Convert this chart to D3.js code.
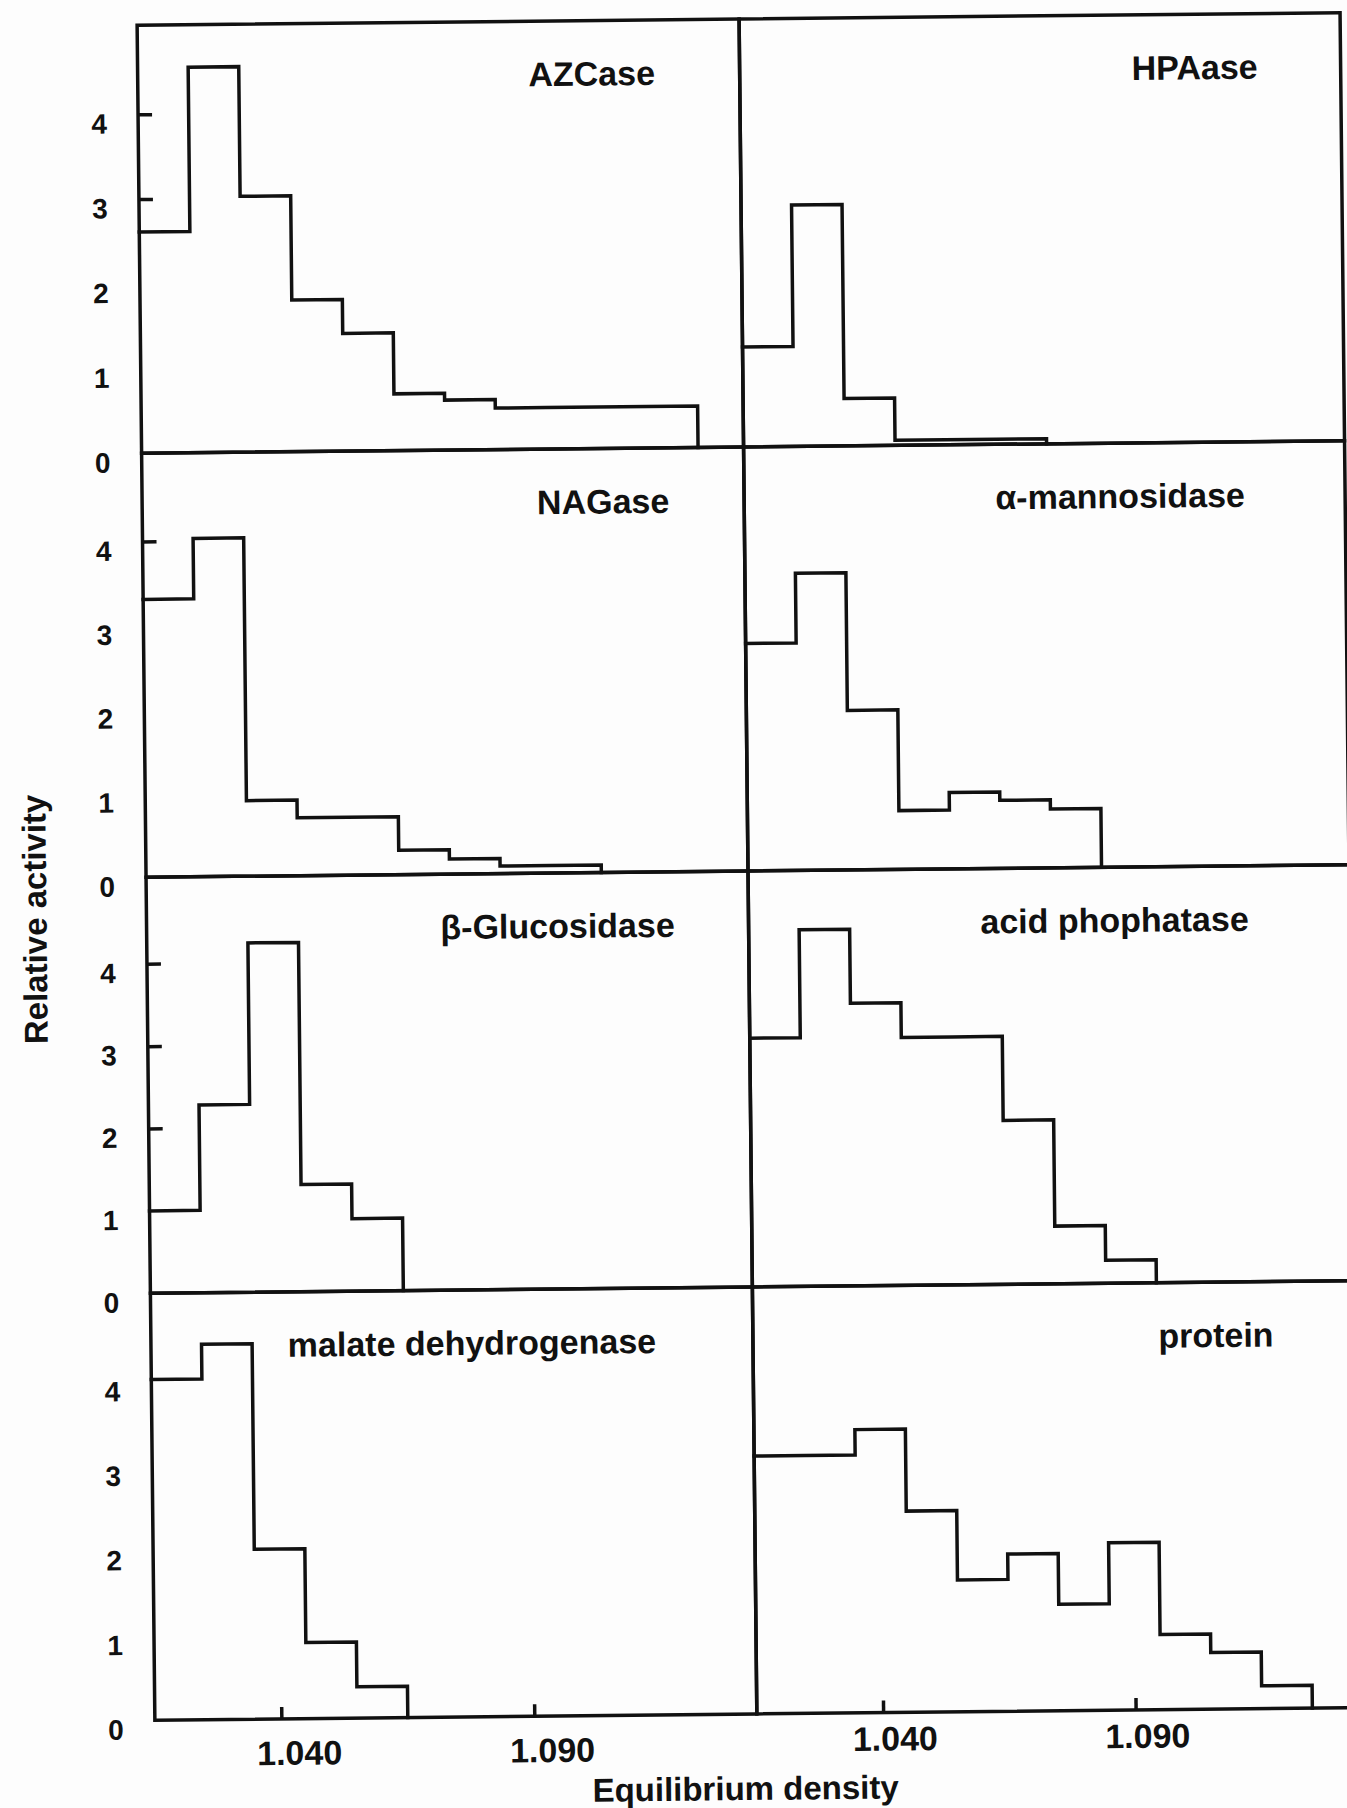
<!DOCTYPE html>
<html>
<head>
<meta charset="utf-8">
<script src="https://cdn.jsdelivr.net/npm/d3@7"></script>
<style>
  html, body { margin: 0; padding: 0; background: #fdfdfd; }
  svg { display: block; }
  text { font-family: "Liberation Sans", Arial, Helvetica, sans-serif; fill: #111; }
</style>
</head>
<body>
<svg id="chart" width="1347" height="1808"></svg>
<script>
// ---------------- data ----------------
const panelNames = ["AZCase", "HPAase", "NAGase", "\u03b1-mannosidase",
                    "\u03b2-Glucosidase", "acid phophatase", "malate dehydrogenase", "protein"];
// density bins of width 0.010 starting at 1.015
const binStart = 1.015;
const binWidth = 0.010;
const azcase   = [2.61, 4.55, 3.02, 1.79, 1.39, 0.67, 0.59, 0.49, 0.49, 0.49, 0.49];
const hpaase   = [1.18, 2.85, 0.56, 0.06, 0.06, 0.06];
const nagase   = [3.31, 4.03, 0.90, 0.69, 0.69, 0.29, 0.18, 0.09, 0.09];
const aMannos  = [2.71, 3.54, 1.90, 0.70, 0.91, 0.81, 0.70];
const bGlucos  = [1.00, 2.28, 4.24, 1.30, 0.88];
const acidPhos = [3.02, 4.33, 3.43, 3.01, 3.01, 1.99, 0.70, 0.28];
const malateDH = [4.03, 4.44, 2.01, 0.90, 0.37];
const protein  = [3.05, 3.05, 3.35, 2.38, 1.56, 1.86, 1.26, 1.98, 0.89, 0.67, 0.27];
const seriesValues = [azcase, hpaase, nagase, aMannos, bGlucos, acidPhos, malateDH, protein];

const xDomain = [1.015, 1.134];
const yDomain = [0, 5.05];
const xTickValues = [1.040, 1.090];
const xTickLabels = ["1.040", "1.090"];
const yTickValues = [0, 1, 2, 3, 4];
const yTickLabels = ["0", "1", "2", "3", "4"];
const yTickMarksByRow = [[4, 3], [4], [4, 3, 2], []];
const xTitle = "Equilibrium density";
const yTitle = "Relative activity";

// ---------------- layout ----------------
const colEdges = [146, 748, 1349];
const rowEdges = [19, 447, 871, 1287, 1714];
const titleCenters = [600, 1203, 607, 1124, 557, 1114, 467, 1211];
const xLabelShift = [[18, 46], [12, 38]];
const ink = "#111";
const lw = 3.5;

const svg = d3.select("#chart");
svg.append("rect").attr("width", 1347).attr("height", 1808).attr("fill", "#fdfdfd");
const g = svg.append("g").attr("transform", "rotate(-0.6 745 870)");

seriesValues.forEach((vals, i) => {
  const row = Math.floor(i / 2), col = i % 2;
  const x0 = colEdges[col], x1 = colEdges[col + 1];
  const yTop = rowEdges[row], yBot = rowEdges[row + 1];
  const x = d3.scaleLinear().domain(xDomain).range([x0, x1]);
  const y = d3.scaleLinear().domain(yDomain).range([yBot, yTop]);
  const pg = g.append("g");

  // frame
  pg.append("rect").attr("x", x0).attr("y", yTop)
    .attr("width", x1 - x0).attr("height", yBot - yTop)
    .attr("fill", "none").attr("stroke", ink).attr("stroke-width", lw);

  // histogram outline
  const pts = [];
  vals.forEach((v, k) => {
    pts.push([binStart + k * binWidth, v]);
    pts.push([binStart + (k + 1) * binWidth, v]);
  });
  pts.push([binStart + vals.length * binWidth, 0]);
  const line = d3.line().x(d => x(d[0])).y(d => y(d[1]));
  pg.append("path").attr("d", line(pts))
    .attr("fill", "none").attr("stroke", ink).attr("stroke-width", lw)
    .attr("stroke-linejoin", "miter").attr("stroke-linecap", "square");

  // title
  pg.append("text").attr("x", titleCenters[i]).attr("y", yTop + 65)
    .attr("text-anchor", "middle").attr("font-size", 34).attr("font-weight", "bold")
    .text(panelNames[i]);

  if (col === 0) {
    // y tick labels
    yTickValues.forEach((t, k) => {
      pg.append("text").attr("x", 107).attr("y", y(t) + 19)
        .attr("text-anchor", "middle").attr("font-size", 28).attr("font-weight", "bold")
        .text(yTickLabels[k]);
    });
    // inward tick marks via d3 axis
    const marks = yTickMarksByRow[row];
    if (marks.length) {
      const ax = pg.append("g").attr("transform", `translate(${x0},0)`)
        .call(d3.axisRight(y).tickValues(marks).tickSize(14).tickFormat(""));
      ax.select(".domain").remove();
      ax.selectAll("line").attr("stroke", ink).attr("stroke-width", lw);
    }
  }

  if (row === 3) {
    const ax = pg.append("g").attr("transform", `translate(0,${yBot})`)
      .call(d3.axisTop(x).tickValues(xTickValues).tickSize(12).tickFormat(""));
    ax.select(".domain").remove();
    ax.selectAll("line").attr("stroke", ink).attr("stroke-width", lw);
    xTickValues.forEach((t, k) => {
      pg.append("text").attr("x", x(t) + xLabelShift[col][0]).attr("y", yBot + xLabelShift[col][1])
        .attr("text-anchor", "middle").attr("font-size", 34).attr("font-weight", "bold")
        .text(xTickLabels[k]);
    });
  }
});

// axis titles
g.append("text").attr("x", 736).attr("y", 1800)
  .attr("text-anchor", "middle").attr("font-size", 33).attr("font-weight", "bold")
  .text(xTitle);
g.append("text").attr("transform", "translate(46,912) rotate(-90)")
  .attr("text-anchor", "middle").attr("font-size", 33).attr("font-weight", "bold")
  .text(yTitle);
</script>
</body>
</html>
